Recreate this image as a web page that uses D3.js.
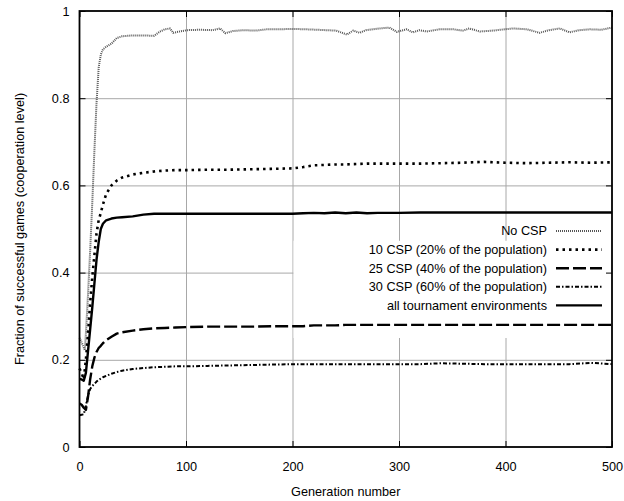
<!DOCTYPE html>
<html>
<head>
<meta charset="utf-8">
<script src="https://cdn.jsdelivr.net/npm/d3@7"></script>
<style>
  body { margin: 0; background: #fff; }
  text { font-family: "Liberation Sans", Arial, sans-serif; font-size: 12.7px; fill: #000; }
</style>
</head>
<body>
<div id="chart"></div>
<script>
// generations sampled for the CSP series
var gens = [0, 2, 4, 6, 8, 10, 12, 14, 16, 18, 20, 22, 25, 30, 35, 40, 50, 60, 70, 80, 90, 100,
  120, 140, 160, 180, 200, 210, 220, 230, 240, 250, 260, 270, 280, 300, 320, 340, 360, 380,
  400, 420, 440, 460, 480, 500];

var csp10 = [0.18, 0.17, 0.155, 0.2, 0.26, 0.33, 0.39, 0.44, 0.49, 0.52, 0.537, 0.556, 0.58, 0.6,
  0.611, 0.618, 0.625, 0.629, 0.632, 0.634, 0.635, 0.635, 0.636, 0.636, 0.637, 0.638, 0.639,
  0.642, 0.646, 0.647, 0.648, 0.648, 0.649, 0.65, 0.65, 0.65, 0.65, 0.651, 0.652, 0.654,
  0.652, 0.651, 0.652, 0.653, 0.652, 0.653];

var csp25 = [0.1, 0.097, 0.09, 0.085, 0.115, 0.155, 0.185, 0.205, 0.218, 0.227, 0.232, 0.238,
  0.245, 0.253, 0.26, 0.263, 0.267, 0.27, 0.272, 0.273, 0.274, 0.275, 0.276, 0.276, 0.276,
  0.277, 0.277, 0.277, 0.279, 0.279, 0.279, 0.28, 0.28, 0.28, 0.28, 0.28, 0.28, 0.28, 0.28,
  0.28, 0.28, 0.28, 0.28, 0.28, 0.28, 0.28];

var csp30 = [0.073, 0.074, 0.075, 0.095, 0.118, 0.133, 0.14, 0.145, 0.15, 0.154, 0.157, 0.16,
  0.163, 0.168, 0.172, 0.175, 0.179, 0.181, 0.183, 0.184, 0.185, 0.185, 0.186, 0.187, 0.188,
  0.189, 0.19, 0.19, 0.19, 0.19, 0.19, 0.19, 0.19, 0.19, 0.19, 0.19, 0.19, 0.192, 0.191,
  0.19, 0.19, 0.19, 0.19, 0.19, 0.193, 0.19];

var allEnv = [0.156, 0.155, 0.152, 0.17, 0.22, 0.27, 0.32, 0.375, 0.43, 0.47, 0.5, 0.512, 0.52,
  0.524, 0.526, 0.527, 0.529, 0.533, 0.535, 0.535, 0.535, 0.535, 0.535, 0.535, 0.535, 0.535,
  0.535, 0.536, 0.537, 0.536, 0.538, 0.536, 0.538, 0.536, 0.537, 0.537, 0.538, 0.538, 0.538,
  0.538, 0.538, 0.538, 0.538, 0.538, 0.538, 0.538];

// the No CSP run wiggles, so it has its own sampling
var noCspGens = [0, 2, 4, 5, 6, 8, 10, 12, 14, 16, 18, 20, 22, 25, 30, 35, 40, 50, 60, 70, 75,
  80, 85, 88, 94, 101, 113, 125, 132, 137, 144, 154, 166, 176, 188, 199, 213, 232, 241, 251,
  257, 263, 269, 282, 291, 298, 307, 313, 319, 326, 338, 351, 360, 366, 376, 388, 399, 407,
  420, 432, 441, 451, 460, 469, 479, 490, 500];
var noCsp = [0.25, 0.24, 0.228, 0.222, 0.26, 0.35, 0.45, 0.56, 0.68, 0.79, 0.87, 0.9, 0.912,
  0.918, 0.925, 0.938, 0.942, 0.944, 0.944, 0.943, 0.952, 0.958, 0.96, 0.95, 0.953, 0.956,
  0.957, 0.956, 0.96, 0.949, 0.954, 0.956, 0.955, 0.958, 0.958, 0.959, 0.958, 0.956, 0.955,
  0.946, 0.955, 0.95, 0.956, 0.96, 0.962, 0.952, 0.958, 0.951, 0.956, 0.953, 0.958, 0.958,
  0.955, 0.96, 0.953, 0.955, 0.958, 0.96, 0.958, 0.95, 0.956, 0.96, 0.951, 0.956, 0.958,
  0.957, 0.962];

var xTicks = [0, 100, 200, 300, 400, 500];
var yTicks = [0, 0.2, 0.4, 0.6, 0.8, 1];

var seriesNames = ["No CSP", "10 CSP (20% of the population)", "25 CSP (40% of the population)",
  "30 CSP (60% of the population)", "all tournament environments"];

var svgWidth = 624;
var svgHeight = 501;
var margin = { top: 11, right: 12, bottom: 54, left: 79.5 };
var chartWidth = svgWidth - margin.left - margin.right;
var chartHeight = svgHeight - margin.top - margin.bottom;

var svg = d3.select("#chart")
  .append("svg")
  .attr("width", svgWidth)
  .attr("height", svgHeight);

var chartGroup = svg.append("g")
  .attr("transform", `translate(${margin.left}, ${margin.top})`);

var xScale = d3.scaleLinear().domain([0, 500]).range([0, chartWidth]);
var yScale = d3.scaleLinear().domain([0, 1]).range([chartHeight, 0]);

// grid
chartGroup.append("g")
  .call(d3.axisBottom(xScale).tickValues(xTicks.slice(1, -1)).tickSize(chartHeight).tickFormat(""))
  .call(g => g.select(".domain").remove())
  .selectAll("line").attr("stroke", "#a8a8a8");
chartGroup.append("g")
  .call(d3.axisRight(yScale).tickValues(yTicks.slice(1, -1)).tickSize(chartWidth).tickFormat(""))
  .call(g => g.select(".domain").remove())
  .selectAll("line").attr("stroke", "#a8a8a8");

// opaque key box hides grid behind it
chartGroup.append("rect")
  .attr("x", xScale(200) + 1)
  .attr("y", yScale(0.473))
  .attr("width", chartWidth - xScale(200) - 1)
  .attr("height", yScale(0.25) - yScale(0.473))
  .attr("fill", "#fff");

// tick marks on all four sides, pointing inward
var tickLen = 6;
chartGroup.append("g")
  .attr("transform", `translate(0, ${chartHeight})`)
  .call(d3.axisBottom(xScale).tickValues(xTicks).tickSize(-tickLen).tickPadding(15).tickFormat(d3.format("d")))
  .call(g => g.select(".domain").remove())
  .call(g => g.selectAll("text").style("font-size", "12.7px").attr("font-family", null))
  .selectAll("line").attr("stroke", "#000");
chartGroup.append("g")
  .call(d3.axisTop(xScale).tickValues(xTicks).tickSize(-tickLen).tickFormat(""))
  .call(g => g.select(".domain").remove())
  .selectAll("line").attr("stroke", "#000");
chartGroup.append("g")
  .call(d3.axisLeft(yScale).tickValues(yTicks).tickSize(-tickLen).tickPadding(10).tickFormat(d => d === 0 || d === 1 ? d : d3.format(".1f")(d)))
  .call(g => g.select(".domain").remove())
  .call(g => g.selectAll("text").style("font-size", "12.7px").attr("font-family", null))
  .selectAll("line").attr("stroke", "#000");
chartGroup.append("g")
  .attr("transform", `translate(${chartWidth}, 0)`)
  .call(d3.axisRight(yScale).tickValues(yTicks).tickSize(-tickLen).tickFormat(""))
  .call(g => g.select(".domain").remove())
  .selectAll("line").attr("stroke", "#000");

var styles = [
  { color: "#555", width: 2, dash: "1,1" },
  { color: "#000", width: 2.6, dash: "2.5,4" },
  { color: "#000", width: 2.4, dash: "13,4" },
  { color: "#000", width: 2, dash: "4,2,1.5,2" },
  { color: "#000", width: 2.4, dash: null }
];

var seriesData = [
  noCspGens.map((g, i) => [g, noCsp[i]]),
  gens.map((g, i) => [g, csp10[i]]),
  gens.map((g, i) => [g, csp25[i]]),
  gens.map((g, i) => [g, csp30[i]]),
  gens.map((g, i) => [g, allEnv[i]])
];

var line = d3.line()
  .x(d => xScale(d[0]))
  .y(d => yScale(d[1]));

seriesData.forEach(function(data, i) {
  chartGroup.append("path")
    .datum(data)
    .attr("d", line)
    .attr("fill", "none")
    .attr("stroke", styles[i].color)
    .attr("stroke-width", styles[i].width)
    .attr("stroke-dasharray", styles[i].dash)
    .attr("stroke-linejoin", "round");
});

// key
var keyGroup = chartGroup.append("g");
seriesNames.forEach(function(name, i) {
  var rowY = 231 - margin.top + i * 18.6;
  keyGroup.append("text")
    .attr("x", 547 - margin.left)
    .attr("y", rowY)
    .attr("dy", "0.35em")
    .attr("text-anchor", "end")
    .text(name);
  keyGroup.append("line")
    .attr("x1", 556 - margin.left)
    .attr("x2", 602 - margin.left)
    .attr("y1", rowY)
    .attr("y2", rowY)
    .attr("stroke", styles[i].color)
    .attr("stroke-width", styles[i].width)
    .attr("stroke-dasharray", styles[i].dash);
});

// border
chartGroup.append("rect")
  .attr("width", chartWidth)
  .attr("height", chartHeight)
  .attr("fill", "none")
  .attr("stroke", "#000")
  .attr("stroke-width", 1.8);

// axis titles
svg.append("text")
  .attr("x", margin.left + chartWidth / 2)
  .attr("y", 492)
  .attr("dy", "0.35em")
  .attr("text-anchor", "middle")
  .text("Generation number");

svg.append("text")
  .attr("transform", `translate(20, ${margin.top + chartHeight / 2}) rotate(-90)`)
  .attr("dy", "0.35em")
  .attr("text-anchor", "middle")
  .text("Fraction of successful games (cooperation level)");
</script>
</body>
</html>
